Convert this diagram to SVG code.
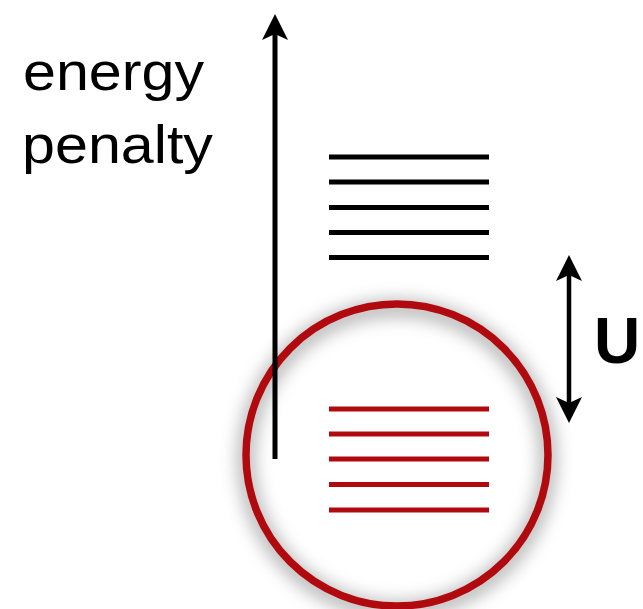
<svg xmlns="http://www.w3.org/2000/svg" width="643" height="609" viewBox="0 0 643 609">
<style>
.lvl-black line { stroke: #000; stroke-width: 5; }
.lvl-red line { stroke: #b00a0f; stroke-width: 5; }
.label { font-family: "Liberation Sans", Arial, sans-serif; fill: #000; }
.conn { stroke: #000; fill: none; }
</style>
<defs>
<marker id="ah" viewBox="-27 -15 29 30" markerWidth="29" markerHeight="30" refX="-18" refY="0" orient="auto-start-reverse" markerUnits="userSpaceOnUse">
<path d="M0,0 L-26,-13 L-20,0 L-26,13 Z" fill="#000"/>
</marker>
<filter id="shadow" x="-30%" y="-30%" width="160%" height="160%">
<feGaussianBlur stdDeviation="9"/>
</filter>
</defs>
<rect width="643" height="609" fill="#fff"/>
<g id="label-energy-penalty">
<text class="label" x="23" y="90" font-size="54" textLength="181" lengthAdjust="spacingAndGlyphs">energy</text>
<text class="label" x="22" y="163" font-size="54" textLength="191" lengthAdjust="spacingAndGlyphs">penalty</text>
</g>
<g id="circle-highlight">
<circle cx="397" cy="459" r="151" fill="none" stroke="#888" stroke-width="14" filter="url(#shadow)" opacity="0.75"/>
<circle cx="397" cy="455" r="151" fill="none" stroke="#b00a0f" stroke-width="7.5"/>
</g>
<g id="levels-upper" class="lvl-black">
<line x1="329" y1="157" x2="489" y2="157"/>
<line x1="329" y1="182" x2="489" y2="182"/>
<line x1="329" y1="207.5" x2="489" y2="207.5"/>
<line x1="329" y1="232.5" x2="489" y2="232.5"/>
<line x1="329" y1="257.5" x2="489" y2="257.5"/>
</g>
<g id="levels-lower" class="lvl-red">
<line x1="329" y1="409" x2="489" y2="409"/>
<line x1="329" y1="434" x2="489" y2="434"/>
<line x1="329" y1="459" x2="489" y2="459"/>
<line x1="329" y1="484.5" x2="489" y2="484.5"/>
<line x1="329" y1="510" x2="489" y2="510"/>
</g>
<g id="label-U">
<text class="label" x="594" y="363" font-size="64" font-weight="bold">U</text>
</g>
<g id="connectors">
<line class="conn" x1="275" y1="459" x2="275" y2="32" stroke-width="5" marker-end="url(#ah)"/>
<line class="conn" x1="569" y1="273" x2="569" y2="405" stroke-width="4.5" marker-start="url(#ah)" marker-end="url(#ah)"/>
</g>
</svg>
